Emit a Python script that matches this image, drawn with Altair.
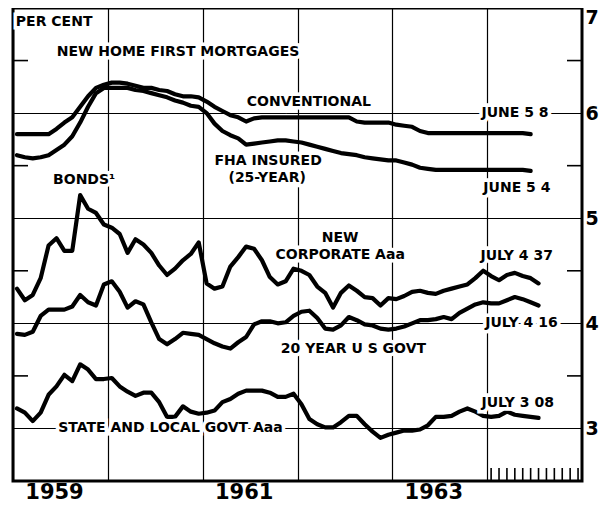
import altair as alt
import pandas as pd

# ---- data (monthly, Jan 1959 onward) ----
conventional = [5.80, 5.80, 5.80, 5.80, 5.80, 5.85, 5.91, 5.96, 6.06, 6.16,
                6.24, 6.27, 6.29, 6.29, 6.28, 6.26, 6.24, 6.24, 6.22, 6.21,
                6.18, 6.16, 6.16, 6.15, 6.11, 6.06, 6.02, 5.98, 5.96, 5.92,
                5.95, 5.96, 5.96, 5.96, 5.96, 5.96, 5.96, 5.96, 5.96, 5.96,
                5.96, 5.96, 5.96, 5.92, 5.91, 5.91, 5.91, 5.91, 5.89, 5.88,
                5.87, 5.83, 5.81, 5.81, 5.81, 5.81, 5.81, 5.81, 5.81, 5.81,
                5.81, 5.81, 5.81, 5.81, 5.81, 5.80]
fha = [5.60, 5.58, 5.57, 5.58, 5.60, 5.65, 5.70, 5.78, 5.91, 6.06,
       6.19, 6.24, 6.24, 6.24, 6.24, 6.22, 6.21, 6.19, 6.17, 6.15,
       6.12, 6.10, 6.07, 6.06, 6.00, 5.90, 5.83, 5.79, 5.76, 5.70,
       5.71, 5.72, 5.73, 5.74, 5.74, 5.73, 5.72, 5.70, 5.68, 5.66,
       5.64, 5.62, 5.61, 5.60, 5.58, 5.57, 5.56, 5.55, 5.55, 5.53,
       5.51, 5.48, 5.47, 5.46, 5.46, 5.46, 5.46, 5.46, 5.46, 5.46,
       5.46, 5.46, 5.46, 5.46, 5.46, 5.45]
corporate = [4.33, 4.22, 4.27, 4.43, 4.74, 4.81, 4.69, 4.69, 5.22, 5.09,
             5.05, 4.94, 4.91, 4.85, 4.67, 4.80, 4.75, 4.67, 4.55, 4.46,
             4.52, 4.60, 4.66, 4.77, 4.38, 4.33, 4.35, 4.54, 4.63, 4.73,
             4.71, 4.60, 4.44, 4.37, 4.40, 4.52, 4.50, 4.46, 4.35, 4.29,
             4.15, 4.29, 4.36, 4.31, 4.25, 4.24, 4.17, 4.24, 4.23, 4.26,
             4.30, 4.31, 4.29, 4.28, 4.31, 4.33, 4.35, 4.37, 4.43, 4.50,
             4.45, 4.41, 4.46, 4.48, 4.45, 4.43, 4.38]
govt = [3.90, 3.89, 3.92, 4.07, 4.13, 4.13, 4.13, 4.16, 4.27, 4.20,
        4.17, 4.37, 4.40, 4.30, 4.15, 4.21, 4.18, 4.01, 3.85, 3.80,
        3.85, 3.91, 3.90, 3.89, 3.85, 3.81, 3.78, 3.76, 3.82, 3.87,
        3.99, 4.02, 4.02, 4.00, 4.01, 4.07, 4.11, 4.12, 4.05, 3.95,
        3.94, 3.98, 4.06, 4.03, 3.99, 3.98, 3.95, 3.94, 3.95, 3.97,
        4.00, 4.03, 4.03, 4.04, 4.06, 4.04, 4.10, 4.14, 4.18, 4.20,
        4.19, 4.19, 4.22, 4.25, 4.23, 4.20, 4.17]
state_local = [3.19, 3.15, 3.07, 3.15, 3.32, 3.40, 3.51, 3.45, 3.61, 3.56,
               3.47, 3.47, 3.48, 3.40, 3.35, 3.31, 3.34, 3.34, 3.25, 3.11,
               3.11, 3.21, 3.16, 3.14, 3.15, 3.17, 3.25, 3.28, 3.33, 3.36,
               3.36, 3.36, 3.34, 3.30, 3.30, 3.33, 3.23, 3.09, 3.04, 3.01,
               3.01, 3.06, 3.12, 3.12, 3.04, 2.97, 2.91, 2.94, 2.96, 2.98,
               2.98, 2.99, 3.03, 3.11, 3.11, 3.12, 3.16, 3.19, 3.16, 3.12,
               3.11, 3.12, 3.16, 3.13, 3.12, 3.11, 3.10]

year_ticks = [1959, 1960, 1961, 1962, 1963, 1964]
pct_ticks = [3, 4, 5, 6, 7]
half_ticks = [3.5, 4.5, 5.5, 6.5]
months_1964 = list(range(12))

labels_c_text = ["NEW HOME FIRST MORTGAGES", "CONVENTIONAL", "FHA INSURED", "(25-YEAR)",
                 "BONDS\u00b9", "NEW", "CORPORATE Aaa", "20 YEAR U S  GOVT",
                 "STATE AND LOCAL GOVT  Aaa"]
labels_c_t = [1960.74, 1962.12, 1961.69, 1961.68, 1959.75, 1962.45, 1962.45, 1962.59, 1960.66]
labels_c_v = [6.58, 6.11, 5.54, 5.38, 5.36, 4.81, 4.65, 3.76, 3.0]
labels_l_text = ["PER CENT", "JUNE 5 8", "JUNE 5 4", "JULY 4 37", "JULY 4 16", "JULY 3 08"]
labels_l_t = [1959.03, 1963.94, 1963.96, 1963.93, 1963.98, 1963.94]
labels_l_v = [6.87, 6.0, 5.29, 4.64, 4.0, 3.24]

# ---- build tables ----
rows = []
for name, vals in [("Conventional", conventional), ("FHA", fha), ("Corporate", corporate),
                   ("Govt", govt), ("State", state_local)]:
    for m, v in enumerate(vals):
        rows.append({"t": 1959 + (m + 0.5) / 12, "v": v, "series": name})
df = pd.DataFrame(rows)

W, H = 569, 473
FONT = "DejaVu Sans"
xs = alt.Scale(domain=[1959, 1965], nice=False, zero=False)
ys = alt.Scale(domain=[2.5, 7], nice=False, zero=False)

x_axis = alt.Axis(values=year_ticks, grid=True, gridColor="black", gridWidth=1.2,
                  format="d", labelExpr="datum.value % 2 == 1 ? datum.label : ''",
                  labelOffset=41, labelFontSize=21, labelFont=FONT, labelFontWeight="bold",
                  labelColor="black", ticks=False, domain=False, title=None,
                  labelPadding=17, labelBaseline="alphabetic", labelFlush=False)
y_axis = alt.Axis(orient="right", values=pct_ticks, grid=True, gridColor="black", gridWidth=1.2,
                  format="d",
                  labelFontSize=19, labelFont=FONT, labelFontWeight="bold", labelColor="black",
                  ticks=False, domain=False, title=None, labelPadding=3, labelFlush=True)

lines = alt.Chart(df).mark_line(color="black", strokeWidth=4.2, strokeJoin="round",
                                strokeCap="round").encode(
    x=alt.X("t:Q", scale=xs, axis=x_axis),
    y=alt.Y("v:Q", scale=ys, axis=y_axis),
    detail="series:N",
)

half_df = pd.DataFrame({"v": half_ticks})
left_ticks = alt.Chart(half_df).mark_rule(color="black", strokeWidth=1.6).encode(
    y=alt.Y("v:Q", scale=ys), x=alt.value(0), x2=alt.value(15))
right_ticks = alt.Chart(half_df).mark_rule(color="black", strokeWidth=1.6).encode(
    y=alt.Y("v:Q", scale=ys), x=alt.value(W - 15), x2=alt.value(W))

mt_df = pd.DataFrame({"t": [1964 + (k + 0.5) / 12 for k in months_1964]})
month_ticks = alt.Chart(mt_df).mark_rule(color="black", strokeWidth=1.6).encode(
    x=alt.X("t:Q", scale=xs), y=alt.value(H - 13), y2=alt.value(H))

lab_c = pd.DataFrame({"text": labels_c_text, "t": labels_c_t, "v": labels_c_v})
lab_l = pd.DataFrame({"text": labels_l_text, "t": labels_l_t, "v": labels_l_v})


def text_layers(d, align):
    enc = dict(x=alt.X("t:Q", scale=xs), y=alt.Y("v:Q", scale=ys), text="text:N")
    halo = alt.Chart(d).mark_text(align=align, baseline="middle", font=FONT, fontWeight="bold",
                                  fontSize=14, color="white", stroke="white",
                                  strokeWidth=7).encode(**enc)
    txt = alt.Chart(d).mark_text(align=align, baseline="middle", font=FONT, fontWeight="bold",
                                 fontSize=14, color="black").encode(**enc)
    return [halo, txt]


chart = alt.layer(
    lines, left_ticks, right_ticks, month_ticks,
    *text_layers(lab_c, "center"), *text_layers(lab_l, "left"),
).properties(
    width=W, height=H,
    autosize=alt.AutoSizeParams(type="none"),
    padding={"left": 5, "top": 0, "right": 19, "bottom": 23},
    background="white",
).configure_view(stroke="black", strokeWidth=3)

chart.save("out.html", embed_options={"renderer": "svg", "actions": False})
